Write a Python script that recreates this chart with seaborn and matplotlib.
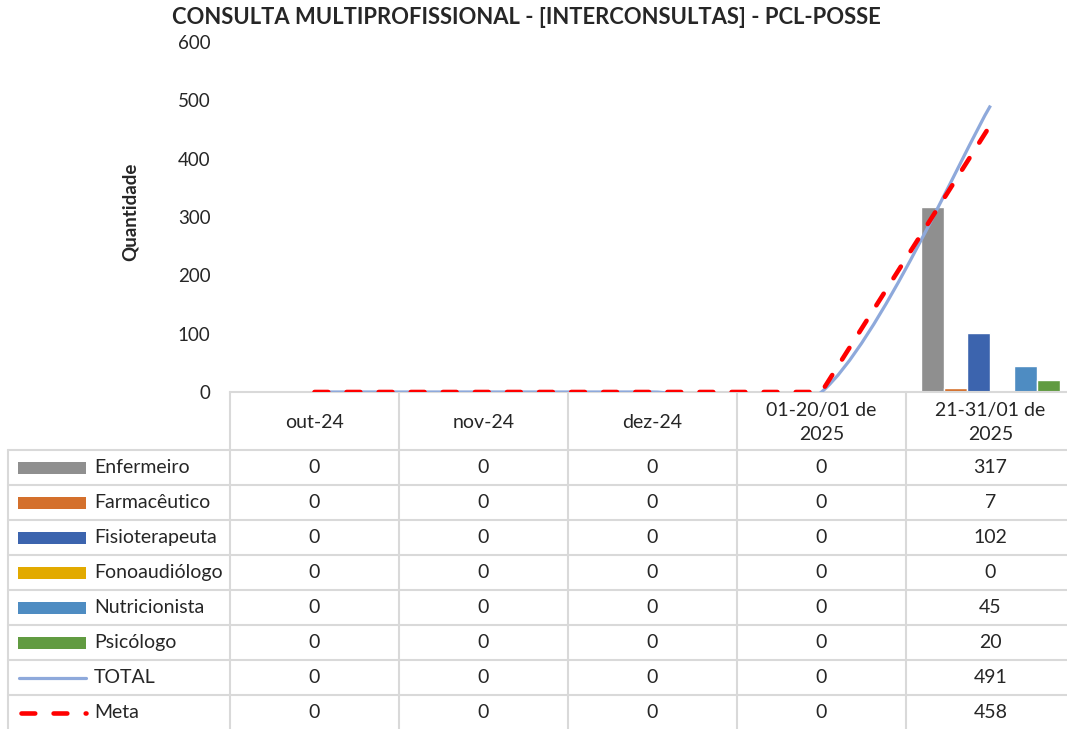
import numpy as np
import pandas as pd
import matplotlib.pyplot as plt
from matplotlib.path import Path
from matplotlib.patches import PathPatch, Rectangle
from matplotlib.lines import Line2D
import seaborn as sns

periodos = ['out-24', 'nov-24', 'dez-24', '01-20/01 de\n2025', '21-31/01 de\n2025']
profissoes = ['Enfermeiro', 'Farmacêutico', 'Fisioterapeuta', 'Fonoaudiólogo', 'Nutricionista', 'Psicólogo']
enfermeiro = [0, 0, 0, 0, 317]
farmaceutico = [0, 0, 0, 0, 7]
fisioterapeuta = [0, 0, 0, 0, 102]
fonoaudiologo = [0, 0, 0, 0, 0]
nutricionista = [0, 0, 0, 0, 45]
psicologo = [0, 0, 0, 0, 20]
total = [0, 0, 0, 0, 491]
meta = [0, 0, 0, 0, 458]

cores = ['#8F8F8F', '#D4702C', '#3C64AE', '#E2AA00', '#4E8CC2', '#619B41']
cor_total = '#8EA9DB'
cor_meta = '#FF0000'
cor_grade = '#D9D9D9'
tracos = (0, (3.0, 4.0))

series = [enfermeiro, farmaceutico, fisioterapeuta, fonoaudiologo, nutricionista, psicologo]
df = pd.DataFrame({
    'periodo': [p for s in series for p in periodos],
    'profissao': [prof for prof, s in zip(profissoes, series) for _ in s],
    'valor': [v for s in series for v in s],
})

sns.set_theme(style='white')
plt.rcParams['font.family'] = ['Lato', 'DejaVu Sans']

W, H = 1067, 729
fig = plt.figure(figsize=(W / 100, H / 100), dpi=100)

# camada da tabela em pixels
tab = fig.add_axes([0, 0, 1, 1], zorder=0)
tab.set_xlim(0, W)
tab.set_ylim(H, 0)
tab.axis('off')

ax = fig.add_axes([230 / W, (H - 392) / H, 845 / W, 350 / H], zorder=1)
ax.patch.set_alpha(0)

sns.barplot(data=df, x='periodo', y='valor', hue='profissao', order=periodos,
            hue_order=profissoes, palette=cores, saturation=1, width=0.82,
            legend=False, ax=ax, zorder=2)

# TOTAL com linha suavizada (estilo Excel)
pts = np.column_stack([np.arange(len(total)), total]).astype(float)
n = len(pts)
verts = [pts[0]]
for i in range(n - 1):
    p0 = pts[max(i - 1, 0)]
    p3 = pts[min(i + 2, n - 1)]
    c1 = pts[i] + (pts[i + 1] - p0) / 6
    c2 = pts[i + 1] - (p3 - pts[i]) / 6
    verts += [c1, c2, pts[i + 1]]
codes = [Path.MOVETO] + [Path.CURVE4] * (3 * (n - 1))
ax.add_patch(PathPatch(Path(verts, codes), fill=False, edgecolor=cor_total, lw=2.3, zorder=3))

sns.lineplot(x=np.arange(len(meta)), y=meta, ax=ax, color=cor_meta, lw=3.3,
             linestyle=tracos, zorder=4)
ax.lines[-1].set_dash_capstyle('round')

ax.set_xlim(-0.5, 4.5)
ax.set_ylim(0, 600)
ax.set_yticks(range(0, 601, 100))
ax.set_xticks([])
ax.set_xlabel('')
ax.tick_params(axis='y', length=0, pad=14, labelsize=13.5)
for s in ['top', 'right', 'left']:
    ax.spines[s].set_visible(False)
ax.spines['bottom'].set_color(cor_grade)
ax.spines['bottom'].set_linewidth(1.5)
ax.set_ylabel('Quantidade', fontsize=13.5, fontweight='bold')
ax.yaxis.set_label_coords(-0.108, 0.515)

fig.text(526 / W, 1 - 18 / H, 'CONSULTA MULTIPROFISSIONAL - [INTERCONSULTAS] - PCL-POSSE',
         ha='center', va='center', fontsize=15.8, fontweight='bold')

# tabela de dados
bordas = [ax.transData.transform((x - 0.5, 0))[0] for x in range(len(periodos) + 1)]
centros = [ax.transData.transform((x, 0))[0] for x in range(len(periodos))]
topo, cab, alt = 392, 450, 35
linhas = profissoes + ['TOTAL', 'Meta']
valores = series + [total, meta]
for b in bordas:
    tab.plot([b, b], [topo, H + 5], color=cor_grade, lw=1.5)
tab.plot([8, 8], [cab, H + 5], color=cor_grade, lw=1.5)
for k in range(len(linhas)):
    y = cab + k * alt
    tab.plot([8, W + 10], [y, y], color=cor_grade, lw=1.5)
for c, p in zip(centros, periodos):
    tab.text(c, (topo + cab) / 2 + 1, p, ha='center', va='center', fontsize=14, linespacing=1.5)
for k, (nome, vals) in enumerate(zip(linhas, valores)):
    yc = cab + k * alt + alt / 2
    if k < len(profissoes):
        tab.add_patch(Rectangle((18, yc - 6), 68, 12, color=cores[k], lw=0))
    elif nome == 'TOTAL':
        tab.add_line(Line2D([19, 86], [yc, yc], color=cor_total, lw=2.3, solid_capstyle='round'))
    else:
        tab.add_line(Line2D([21, 86], [yc, yc], color=cor_meta, lw=3.3,
                            linestyle=tracos, dash_capstyle='round'))
    tab.text(94, yc, nome, ha='left', va='center', fontsize=14)
    for c, v in zip(centros, vals):
        tab.text(c, yc, f'{v}', ha='center', va='center', fontsize=14)

fig.savefig('out.png', dpi=100)
